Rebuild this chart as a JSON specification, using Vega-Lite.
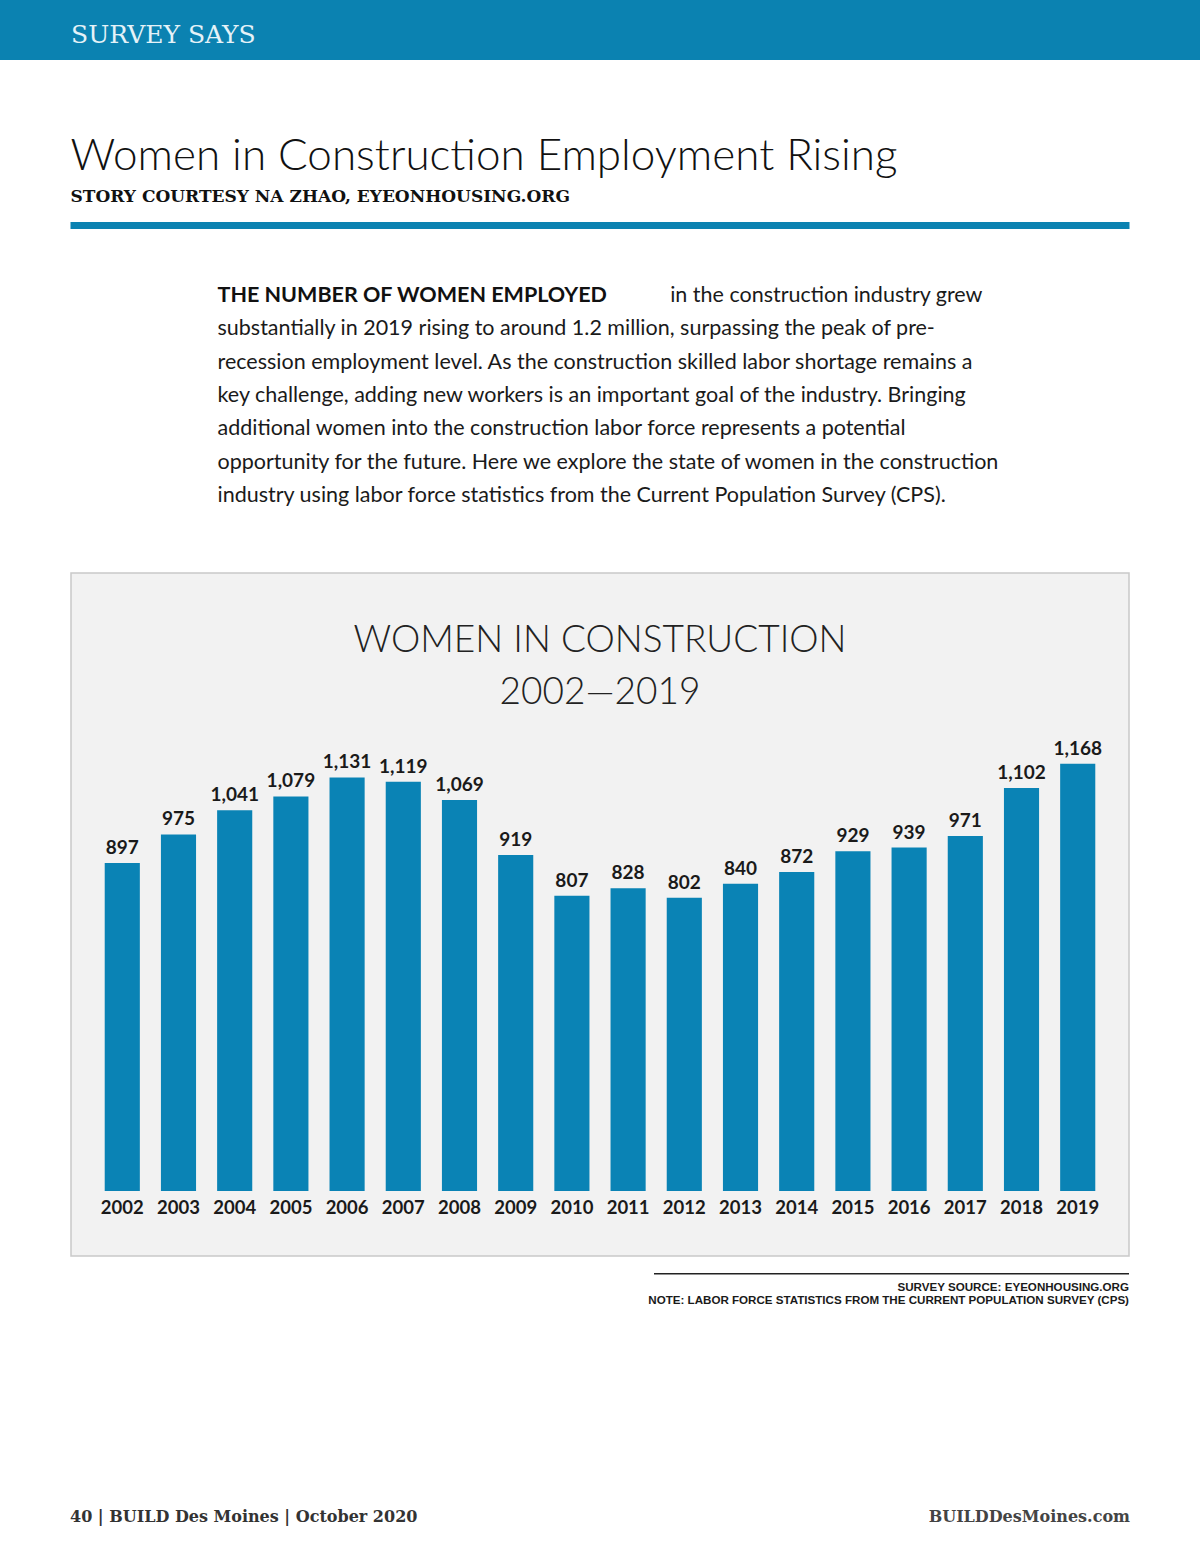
{
  "$schema": "https://vega.github.io/schema/vega-lite/v6.json",
  "padding": 0,
  "background": "white",
  "spacing": 0,
  "center": true,
  "bounds": "flush",
  "resolve": {"scale": {"x": "independent", "y": "independent"}},
  "config": {"view": {"stroke": null}},
  "vconcat": [
    {
      "width": 1200, "height": 60,
      "view": {"fill": "#0b82b1", "stroke": null},
      "data": {"values": []},
      "mark": "point",
      "title": {"text": "SURVEY SAYS", "anchor": "start", "frame": "group", "orient": "top", "offset": -48, "dx": 71, "font": "DejaVu Serif", "fontSize": 25, "fontWeight": "normal", "color": "#e4f2f8"}
    },
    {"width": 1, "height": 162, "data": {"values": []}, "mark": "point"},
    {
      "width": 1059, "height": 7,
      "view": {"fill": "#0b82b1", "stroke": null},
      "data": {"values": []},
      "mark": "point",
      "title": {"text": "Women in Construction Employment Rising", "subtitle": "STORY COURTESY NA ZHAO, EYEONHOUSING.ORG", "anchor": "start", "frame": "group", "orient": "top", "offset": 17, "font": "Lato", "fontSize": 44, "fontWeight": 300, "color": "#111111", "subtitleFont": "DejaVu Serif", "subtitleFontSize": 17, "subtitleFontWeight": "bold", "subtitleColor": "#111111", "subtitlePadding": 10}
    },
    {
      "width": 765, "height": 334,
      "data": {"name": "para", "values": [
        {"line": 1, "text": "THE NUMBER OF WOMEN EMPLOYED", "part": "bold"},
        {"line": 1, "text": "in the construction industry grew", "part": "end"},
        {"line": 2, "text": "substantially in 2019 rising to around 1.2 million, surpassing the peak of pre-", "part": "body"},
        {"line": 3, "text": "recession employment level. As the construction skilled labor shortage remains a", "part": "body"},
        {"line": 4, "text": "key challenge, adding new workers is an important goal of the industry. Bringing", "part": "body"},
        {"line": 5, "text": "additional women into the construction labor force represents a potential", "part": "body"},
        {"line": 6, "text": "opportunity for the future. Here we explore the state of women in the construction", "part": "body"},
        {"line": 7, "text": "industry using labor force statistics from the Current Population Survey (CPS).", "part": "body"}
      ]},
      "encoding": {
        "y": {"field": "line", "type": "quantitative", "scale": {"domain": [-1, 9], "reverse": true, "nice": false, "zero": false}, "axis": null},
        "text": {"field": "text"}
      },
      "layer": [
        {
          "transform": [{"filter": "datum.part === 'body'"}],
          "mark": {"type": "text", "align": "left", "baseline": "middle", "font": "Lato", "fontSize": 21.5, "color": "#1a1a1a"},
          "encoding": {"x": {"datum": 0, "type": "quantitative", "scale": {"domain": [0, 1]}, "axis": null}}
        },
        {
          "transform": [{"filter": "datum.part === 'bold'"}],
          "mark": {"type": "text", "align": "left", "baseline": "middle", "font": "Lato", "fontSize": 21.5, "fontWeight": "bold", "color": "#111111"},
          "encoding": {"x": {"datum": 0, "type": "quantitative", "scale": {"domain": [0, 1]}, "axis": null}}
        },
        {
          "transform": [{"filter": "datum.part === 'end'"}],
          "mark": {"type": "text", "align": "right", "baseline": "middle", "font": "Lato", "fontSize": 21.5, "color": "#1a1a1a"},
          "encoding": {"x": {"datum": 1, "type": "quantitative", "scale": {"domain": [0, 1]}, "axis": null}}
        }
      ]
    },
    {"width": 1, "height": 10, "data": {"values": []}, "mark": "point"},
    {
      "width": 1058, "height": 683,
      "view": {"fill": "#f2f2f2", "stroke": "#c9c9c9", "strokeWidth": 1.5},
      "title": {"text": ["WOMEN IN CONSTRUCTION", "2002—2019"], "anchor": "middle", "frame": "group", "orient": "top", "offset": -139, "font": "Lato", "fontSize": 37, "fontWeight": 300, "lineHeight": 52, "color": "#222222"},
      "data": {"values": [
        {"year": "2002", "women": 897},
        {"year": "2003", "women": 975},
        {"year": "2004", "women": 1041},
        {"year": "2005", "women": 1079},
        {"year": "2006", "women": 1131},
        {"year": "2007", "women": 1119},
        {"year": "2008", "women": 1069},
        {"year": "2009", "women": 919},
        {"year": "2010", "women": 807},
        {"year": "2011", "women": 828},
        {"year": "2012", "women": 802},
        {"year": "2013", "women": 840},
        {"year": "2014", "women": 872},
        {"year": "2015", "women": 929},
        {"year": "2016", "women": 939},
        {"year": "2017", "women": 971},
        {"year": "2018", "women": 1102},
        {"year": "2019", "women": 1168}
      ]},
      "encoding": {
        "x": {"field": "year", "type": "ordinal", "scale": {"paddingInner": 0.375, "paddingOuter": 0.6}, "axis": null}
      },
      "layer": [
        {
          "mark": {"type": "bar", "color": "#0a83b5"},
          "encoding": {
            "y": {"field": "women", "type": "quantitative", "scale": {"domain": [-178, 1690], "nice": false, "zero": false}, "axis": null},
            "y2": {"datum": 0}
          }
        },
        {
          "mark": {"type": "text", "baseline": "bottom", "dy": -5, "font": "Lato", "fontSize": 19, "fontWeight": "bold", "color": "#1a1a1a"},
          "encoding": {
            "y": {"field": "women", "type": "quantitative"},
            "text": {"field": "women", "type": "quantitative", "format": ","}
          }
        },
        {
          "mark": {"type": "text", "baseline": "top", "dy": 8, "font": "Lato", "fontSize": 18.5, "fontWeight": "bold", "color": "#1a1a1a"},
          "encoding": {
            "y": {"datum": 0, "type": "quantitative"},
            "text": {"field": "year"}
          }
        }
      ]
    },
    {"width": 1, "height": 17, "data": {"values": []}, "mark": "point"},
    {
      "hconcat": [
        {"width": 48, "height": 1, "data": {"values": []}, "mark": "point"},
        {
          "width": 475, "height": 1.5,
          "view": {"fill": "#222222", "stroke": null},
          "data": {"values": []},
          "mark": "point",
          "title": {"text": "SURVEY SOURCE: EYEONHOUSING.ORG", "subtitle": "NOTE: LABOR FORCE STATISTICS FROM THE CURRENT POPULATION SURVEY (CPS)", "anchor": "end", "frame": "group", "orient": "bottom", "offset": 7, "font": "Liberation Sans", "fontSize": 11.6, "fontWeight": "bold", "color": "#1a1a1a", "subtitleFont": "Liberation Sans", "subtitleFontSize": 11.6, "subtitleFontWeight": "bold", "subtitleColor": "#1a1a1a", "subtitlePadding": 2}
        }
      ],
      "spacing": 0
    },
    {"width": 1, "height": 225, "data": {"values": []}, "mark": "point"},
    {
      "width": 1060, "height": 38,
      "data": {"name": "foot", "values": [
        {"text": "40  |  BUILD Des Moines  |  October 2020", "side": "left"},
        {"text": "BUILDDesMoines.com", "side": "right"}
      ]},
      "encoding": {"text": {"field": "text"}},
      "layer": [
        {
          "transform": [{"filter": "datum.side === 'left'"}],
          "mark": {"type": "text", "align": "left", "baseline": "middle", "font": "DejaVu Serif", "fontSize": 16, "fontWeight": "bold", "color": "#333333"},
          "encoding": {"x": {"datum": 0, "type": "quantitative", "scale": {"domain": [0, 1]}, "axis": null}}
        },
        {
          "transform": [{"filter": "datum.side === 'right'"}],
          "mark": {"type": "text", "align": "right", "baseline": "middle", "font": "DejaVu Serif", "fontSize": 16, "fontWeight": "bold", "color": "#444444"},
          "encoding": {"x": {"datum": 1, "type": "quantitative", "scale": {"domain": [0, 1]}, "axis": null}}
        }
      ]
    }
  ]
}
